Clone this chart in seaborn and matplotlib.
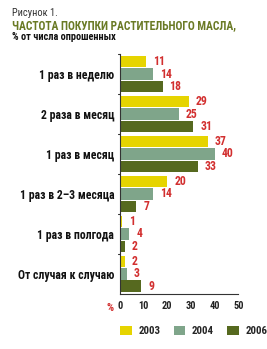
import matplotlib
matplotlib.use("Agg")
import matplotlib.pyplot as plt
from matplotlib.patches import Patch
import seaborn as sns
import pandas as pd

categories = ["1 раз в неделю", "2 раза в месяц", "1 раз в месяц",
              "1 раз в 2–3 месяца", "1 раз в полгода", "От случая к случаю"]
years = ["2003", "2004", "2006"]
v2003 = [11, 29, 37, 20, 1, 2]
v2004 = [14, 25, 40, 14, 4, 3]
v2006 = [18, 31, 33, 7, 2, 9]
xticks = [0, 10, 20, 30, 40, 50]

colors = ["#e6d400", "#7fa58a", "#56691f"]
red = "#d22f2f"

sns.set_style("white")
plt.rcParams["font.family"] = ["Roboto Condensed", "DejaVu Sans"]
plt.rcParams["font.stretch"] = "condensed"

rows = []
for y, vals in zip(years, [v2003, v2004, v2006]):
    for c, v in zip(categories, vals):
        rows.append({"cat": c, "year": y, "val": v})
df = pd.DataFrame(rows)

fig = plt.figure(figsize=(2.67, 3.49), dpi=100)
ax = fig.add_axes([0.449, 0.158, 0.444, 0.687])

sns.barplot(data=df, y="cat", x="val", hue="year", order=categories,
            hue_order=years, palette=colors, orient="h", width=0.92,
            gap=0.08, saturation=1, legend=False, ax=ax, edgecolor="none")

for cont in ax.containers:
    ax.bar_label(cont, padding=5, color=red, fontsize=8.5, fontweight="bold")

ax.set_xlim(0, 50)
ax.set_ylim(len(categories) - 0.5, -0.5)
ax.set_xticks(xticks)
ax.set_xticklabels([str(t) for t in xticks], fontsize=7.5, fontweight="bold",
                   color="#222222")
ax.set_yticks(range(len(categories)))
ax.set_yticklabels(categories, fontsize=8.5, fontweight="bold", color="#111111")
ax.tick_params(axis="y", length=0, pad=4)
ax.tick_params(axis="x", length=3, width=0.8, color="#333333", pad=2,
               direction="out")
ax.set_xlabel("")
ax.set_ylabel("")
for s in ["top", "right"]:
    ax.spines[s].set_visible(False)
for s in ["left", "bottom"]:
    ax.spines[s].set_color("#333333")
    ax.spines[s].set_linewidth(0.8)

# group separators on the left spine
for b in [-0.5, 0.5, 1.5, 2.5, 3.5, 4.5]:
    ax.plot([-0.015, 0], [b, b], transform=ax.get_yaxis_transform(),
            color="#333333", lw=0.8, clip_on=False)

ax.text(-2.5, -0.04, "%", transform=ax.get_xaxis_transform(), color=red,
        fontsize=8, fontweight="bold", ha="right", va="top")

fig.text(0.045, 0.963, "Рисунок 1.", fontsize=7.5, color="#333333",
         ha="left", va="center")
fig.text(0.045, 0.928, "ЧАСТОТА ПОКУПКИ РАСТИТЕЛЬНОГО МАСЛА,", fontsize=8.3,
         fontweight="bold", color="#6a7a25", ha="left", va="center")
fig.text(0.045, 0.895, "% от числа опрошенных", fontsize=7.4,
         fontweight="bold", color="#111111", ha="left", va="center")

handles = [Patch(facecolor=c, edgecolor="none") for c in colors]
leg = fig.legend(handles, years, loc="center left",
                 bbox_to_anchor=(0.45, 0.052), ncol=3, frameon=False,
                 handlelength=1.1, handleheight=1.0, handletextpad=0.6,
                 columnspacing=1.2, borderaxespad=0, borderpad=0,
                 prop={"weight": "bold", "size": 7.8})

fig.savefig("out.png", dpi=100, facecolor="white")
